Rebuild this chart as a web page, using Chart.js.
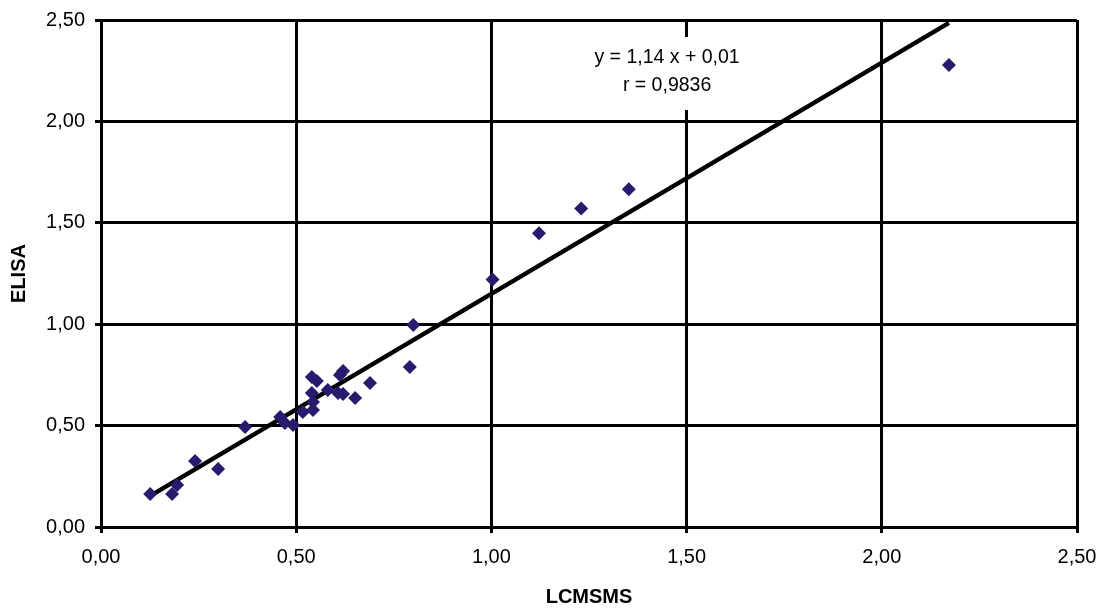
<!DOCTYPE html>
<html>
<head>
<meta charset="utf-8">
<script src="https://cdn.jsdelivr.net/npm/chart.js@4"></script>
<style>
  html, body { margin: 0; padding: 0; background: #ffffff; }
  #wrap { width: 1107px; height: 610px; }
</style>
</head>
<body>
<div id="wrap"><canvas id="scatterChart" width="1107" height="610"></canvas></div>
<script>
const lcmsms = [0.126, 0.182, 0.195, 0.241, 0.300, 0.369, 0.459, 0.471, 0.492, 0.517,
  0.543, 0.543, 0.540, 0.540, 0.553, 0.581, 0.607, 0.620, 0.612, 0.620,
  0.651, 0.689, 0.791, 0.800, 1.003, 1.122, 1.230, 1.352, 2.172];
const elisa = [0.163, 0.163, 0.207, 0.325, 0.286, 0.493, 0.542, 0.513, 0.503, 0.567,
  0.577, 0.616, 0.661, 0.740, 0.720, 0.676, 0.661, 0.656, 0.750, 0.769,
  0.636, 0.710, 0.789, 0.996, 1.221, 1.448, 1.571, 1.665, 2.278];
const slope = 1.14;
const intercept = 0.01;
const eqLines = ['y = 1,14 x + 0,01', 'r = 0,9836'];
const axisMax = 2.5;
const axisStep = 0.5;

const fmt = v => v.toFixed(2).replace('.', ',');
const points = lcmsms.map((x, i) => ({ x: x, y: elisa[i] }));
const xMin = Math.min(...lcmsms), xMax = Math.max(...lcmsms);
const trend = [xMin, xMax].map(x => ({ x: x, y: slope * x + intercept }));

const fontFam = "'Liberation Sans', Arial, sans-serif";

// white box with the regression equation
const eqLabel = {
  id: 'eqLabel',
  afterDatasetsDraw(chart) {
    const ctx = chart.ctx;
    const cx = chart.scales.x.getPixelForValue(1.45);
    const top = chart.chartArea.top + 17;
    ctx.save();
    ctx.fillStyle = '#ffffff';
    ctx.fillRect(cx - 90, top, 180, 73);
    ctx.fillStyle = '#000000';
    ctx.font = '19.5px ' + fontFam;
    ctx.textAlign = 'center';
    ctx.textBaseline = 'middle';
    ctx.fillText(eqLines[0], cx, top + 21);
    ctx.fillText(eqLines[1], cx, top + 49);
    ctx.restore();
  }
};

const whiteBg = {
  id: 'whiteBg',
  beforeDraw(chart) {
    const ctx = chart.ctx;
    ctx.save();
    ctx.fillStyle = '#ffffff';
    ctx.fillRect(0, 0, chart.width, chart.height);
    ctx.restore();
  }
};

new Chart(document.getElementById('scatterChart').getContext('2d'), {
  type: 'scatter',
  data: {
    datasets: [
      {
        label: 'trend',
        data: trend,
        showLine: true,
        borderColor: '#000000',
        borderWidth: 4.5,
        pointRadius: 0,
        order: 2,
      },
      {
        label: 'ELISA',
        data: points,
        pointStyle: 'rectRot',
        pointRadius: 7,
        backgroundColor: '#2a1a6e',
        borderColor: '#2a1a6e',
        borderWidth: 0,
        order: 1,
      }
    ]
  },
  options: {
    responsive: false,
    animation: false,
    layout: { padding: { left: 0, top: 20, right: 30, bottom: 0 } },
    plugins: {
      legend: { display: false },
      tooltip: { enabled: false },
    },
    scales: {
      x: {
        type: 'linear',
        min: 0,
        max: axisMax,
        afterFit: s => { s.height = 83; s.paddingLeft = 0; s.paddingRight = 0; },
        border: { color: '#000000', width: 3 },
        grid: { color: '#000000', lineWidth: 3, tickLength: 6, drawTicks: true },
        ticks: {
          stepSize: axisStep,
          color: '#000000',
          padding: 12,
          font: { size: 20, family: fontFam },
          callback: v => fmt(v),
        },
        title: {
          display: true,
          text: 'LCMSMS',
          color: '#000000',
          padding: { top: 14, bottom: 1 },
          font: { size: 20, weight: 'bold', family: fontFam },
        }
      },
      y: {
        type: 'linear',
        min: 0,
        max: axisMax,
        afterFit: s => { s.width = 101; s.paddingTop = 0; s.paddingBottom = 0; },
        border: { color: '#000000', width: 3 },
        grid: { color: '#000000', lineWidth: 3, tickLength: 6 },
        ticks: {
          stepSize: axisStep,
          color: '#000000',
          padding: 10,
          font: { size: 20, family: fontFam },
          callback: v => fmt(v),
        },
        title: {
          display: true,
          text: 'ELISA',
          color: '#000000',
          padding: { top: 7, bottom: 0 },
          font: { size: 20, weight: 'bold', family: fontFam },
        }
      }
    }
  },
  plugins: [whiteBg, eqLabel]
});
</script>
</body>
</html>
